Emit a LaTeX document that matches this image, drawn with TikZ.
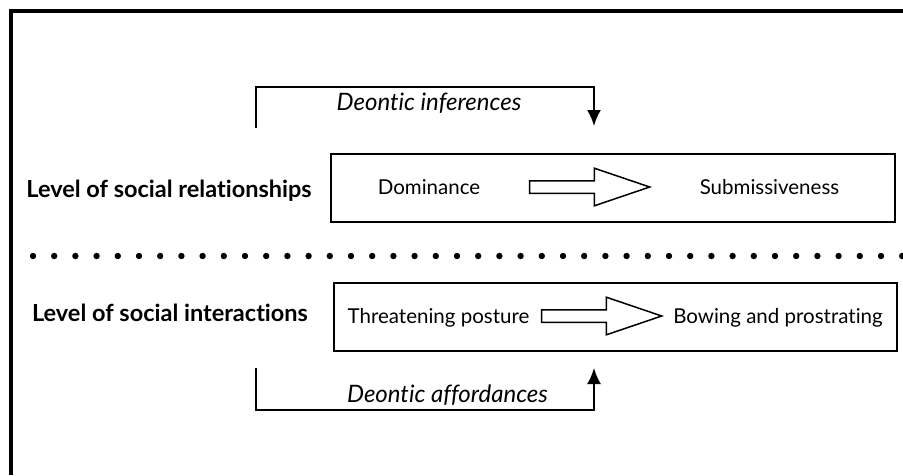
\documentclass[tikz,border=0pt]{standalone}
\usepackage{fontspec}
\setmainfont{Lato}[Ligatures={NoCommon,NoRare}]
\usepackage{tikz}
\usetikzlibrary{arrows.meta}
\usetikzlibrary{shapes.arrows}
\tikzset{>={Latex[length=16pt,width=14pt]}}

\begin{document}
\begin{tikzpicture}[x=1pt,y=-1pt,
    box/.style={rectangle,draw,line width=1.8pt,minimum width=564pt,minimum height=68pt},
    txt/.style={anchor=mid,font=\fontsize{20.5}{24}\selectfont},
    lvl/.style={anchor=mid,font=\fontsize{23.5}{28}\selectfont\bfseries},
    deon/.style={anchor=mid,font=\fontsize{24}{28}\selectfont\itshape},
    hollow/.style={single arrow,draw,line width=1.5pt,minimum height=120pt,inner sep=5.5pt,
      single arrow head extend=12.5pt,single arrow tip angle=37.5},
    bracket/.style={line width=2pt}]
    \useasboundingbox (0,0) rectangle (903,475);
    % frame
    \draw [line width=4.5pt] (11,475) -- (11,11) -- (903,11);
    % upper level
    \node at (613, 188) [box] (rel) {};
    \node at (169, 195) [lvl] (rel_lbl) {Level of social relationships};
    \node at (429, 192) [txt] (dom) {Dominance};
    \node at (769.5, 192) [txt] (sub) {Submissiveness};
    \node at (580.5, 187) [hollow] (rel_arr) {};
    % lower level
    \node at (615.5, 317) [box,minimum width=563pt] (inter) {};
    \node at (170, 319) [lvl] (inter_lbl) {Level of social interactions};
    \node at (438.5, 321) [txt] (threat) {Threatening posture};
    \node at (778, 321) [txt] (bow) {Bowing and prostrating};
    \node at (592.5, 316) [hollow] (inter_arr) {};
    % separator
    \foreach \i in {0,...,41}
      \fill (33+21.2*\i, 256) circle (3.2pt);
    % deontic brackets
    \coordinate (inf_s) at (256, 128);
    \coordinate (inf_e) at (594, 126);
    \node at (429, 108) [deon] (inf) {Deontic inferences};
    \draw [bracket,->] (inf_s) -- ++(0,-41) -| (inf_e);
    \coordinate (aff_s) at (256, 368);
    \coordinate (aff_e) at (594, 368);
    \node at (447.5, 400) [deon] (aff) {Deontic affordances};
    \draw [bracket,->] (aff_s) -- ++(0,42) -| (aff_e);
\end{tikzpicture}
\end{document}
